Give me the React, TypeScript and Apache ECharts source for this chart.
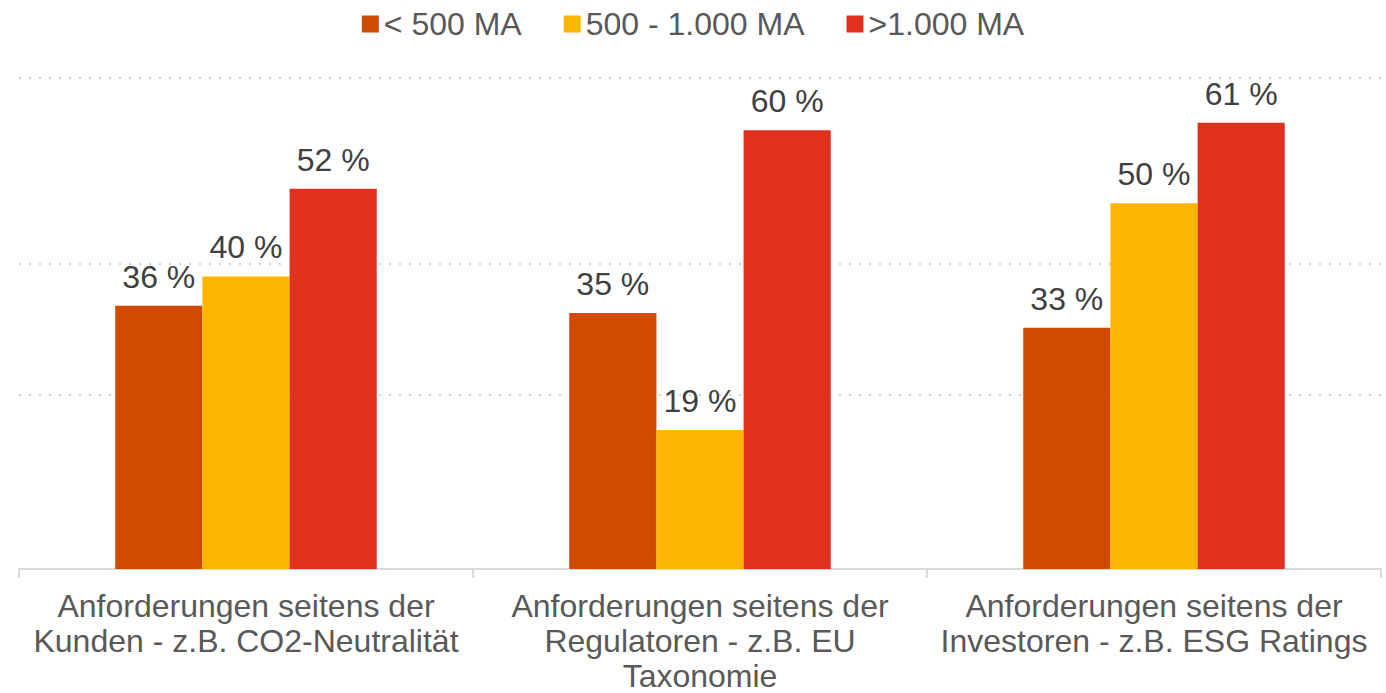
import React, { useEffect, useRef } from "react";
import * as echarts from "echarts";

const categories = [
  "Anforderungen seitens der\nKunden - z.B. CO2-Neutralität",
  "Anforderungen seitens der\nRegulatoren - z.B. EU\nTaxonomie",
  "Anforderungen seitens der\nInvestoren - z.B. ESG Ratings",
];
const seriesNames = ["< 500 MA", "500 - 1.000 MA", ">1.000 MA"];
const small = [36, 35, 33];
const medium = [40, 19, 50];
const large = [52, 60, 61];
const gridValues = [23.8, 41.7, 67.2];
const colors = ["#D04A02", "#FFB600", "#E0301E"];

const FONT = "'Liberation Sans', Arial, sans-serif";

export default function App() {
  const ref = useRef<HTMLDivElement>(null);
  useEffect(() => {
    document.body.style.margin = "0";
    if (!ref.current) return;
    const chart = echarts.init(ref.current, null, { renderer: "svg" });
    const values = [small, medium, large];
    const series: any[] = values.map((vals, i) => ({
      name: seriesNames[i],
      type: "bar",
      data: vals,
      barWidth: "19.2%",
      barGap: "0%",
      z: 3,
      itemStyle: { color: colors[i] },
      label: {
        show: true,
        position: "top",
        distance: 13,
        formatter: "{c} %",
        fontFamily: FONT,
        fontSize: 32,
        color: "#404040",
      },
      markLine:
        i === 0
          ? {
              silent: true,
              symbol: "none",
              z: 1,
              label: { show: false },
              lineStyle: { color: "#cfcfcf", width: 2, type: [2, 8] },
              data: gridValues.map((v) => ({ yAxis: v })),
            }
          : undefined,
    }));
    chart.setOption({
      animation: false,
      textStyle: { fontFamily: FONT },
      legend: {
        top: 3,
        left: "center",
        icon: "rect",
        itemWidth: 17,
        itemHeight: 17,
        itemGap: 42,
        data: seriesNames,
        textStyle: { fontFamily: FONT, fontSize: 32, color: "#595959" },
      },
      grid: {
        left: 19,
        right: 5,
        top: 57,
        bottom: 124,
        containLabel: false,
        outerBoundsMode: "none",
      },
      xAxis: {
        type: "category",
        data: categories,
        axisLine: { lineStyle: { color: "#d9d9d9", width: 2 } },
        axisTick: { show: true, length: 9, lineStyle: { color: "#d9d9d9", width: 2 } },
        axisLabel: {
          fontFamily: FONT,
          fontSize: 32,
          color: "#595959",
          lineHeight: 34.6,
          margin: 20,
          interval: 0,
        },
      },
      yAxis: {
        type: "value",
        min: 0,
        max: 70,
        show: false,
        splitLine: { show: false },
      },
      series,
    });
    return () => chart.dispose();
  }, []);
  return <div ref={ref} style={{ width: 1386, height: 693 }} />;
}
